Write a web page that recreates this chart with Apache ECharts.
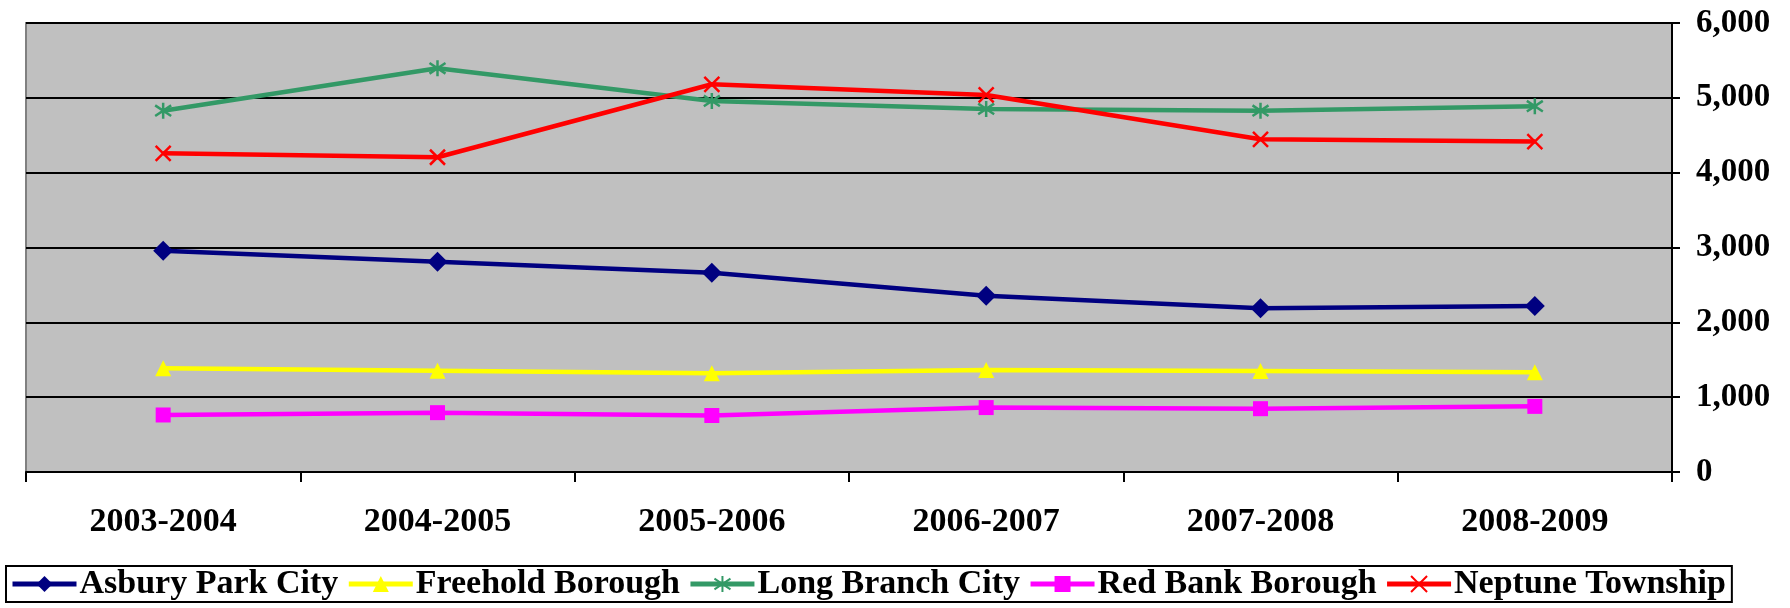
<!DOCTYPE html>
<html>
<head>
<meta charset="utf-8">
<script src="https://cdn.jsdelivr.net/npm/echarts@6/dist/echarts.min.js"></script>
<style>
    html, body { margin: 0; padding: 0; background: #fff; }
    #chart { width: 1790px; height: 608px; }
</style>
</head>
<body>
<div id="chart"></div>
<script>
// school years on the x axis
var years = ['2003-2004', '2004-2005', '2005-2006', '2006-2007', '2007-2008', '2008-2009'];

// values
var asburyPark = [2957, 2810, 2662, 2356, 2189, 2218];
var freehold = [1386, 1354, 1319, 1364, 1350, 1334];
var longBranch = [4828, 5395, 4958, 4851, 4828, 4888];
var redBank = [762, 793, 755, 861, 846, 877];
var neptune = [4259, 4206, 5181, 5038, 4446, 4416];

var yTicks = [0, 1000, 2000, 3000, 4000, 5000, 6000];

var fontName = '"Liberation Serif", "DejaVu Serif", serif';

// stroke-only marks for the cross and the asterisk
var crossPath = 'path://M0,0L10,10M10,0L0,10';
var starPath = 'path://M0,1L10,9M10,1L0,9M5,-1L5,11';

function lineSeries(name, data, color, symbol, size, strokeOnly) {
    var s = {
        name: name,
        type: 'line',
        data: data,
        symbol: symbol,
        symbolSize: size,
        lineStyle: { color: color, width: 4.5 },
        itemStyle: { color: color }
    };
    if (strokeOnly) {
        s.itemStyle = { color: 'none', borderColor: color, borderWidth: 2.5 };
    }
    return s;
}

var myChart = echarts.init(document.getElementById('chart'));

var option = {
    animation: false,
    backgroundColor: '#fff',
    grid: {
        left: 26,
        right: 118,
        top: 23,
        bottom: 136,
        show: true,
        backgroundColor: '#c0c0c0',
        borderColor: '#808080',
        borderWidth: 2
    },
    legend: {
        left: 6,
        top: 566,
        itemWidth: 64,
        itemHeight: 20,
        itemGap: 8,
        padding: [1, 6, 1, 4],
        borderColor: '#000',
        borderWidth: 2,
        lineStyle: { width: 5 },
        textStyle: {
            fontFamily: fontName,
            fontWeight: 'bold',
            fontSize: 34,
            color: '#000',
            padding: [0, 0, 0, -2]
        },
        data: ['Asbury Park City', 'Freehold Borough', 'Long Branch City', 'Red Bank Borough', 'Neptune Township']
    },
    xAxis: {
        type: 'category',
        data: years,
        boundaryGap: true,
        axisLine: { lineStyle: { color: '#000', width: 2 } },
        axisTick: { show: true, length: 10, lineStyle: { color: '#000', width: 2 } },
        axisLabel: {
            margin: 33,
            fontFamily: fontName,
            fontWeight: 'bold',
            fontSize: 34,
            color: '#000'
        }
    },
    yAxis: {
        type: 'value',
        position: 'right',
        min: yTicks[0],
        max: yTicks[yTicks.length - 1],
        interval: 1000,
        axisLine: { show: true, lineStyle: { color: '#000', width: 2 } },
        axisTick: { show: true, length: 8, lineStyle: { color: '#000', width: 2 } },
        splitLine: { show: true, lineStyle: { color: '#000', width: 2 } },
        axisLabel: {
            margin: 24,
            fontFamily: fontName,
            fontWeight: 'bold',
            fontSize: 33,
            color: '#000',
            formatter: function (v) {
                return v.toString().replace(/\B(?=(\d{3})+(?!\d))/g, ',');
            }
        }
    },
    series: [
        lineSeries('Asbury Park City', asburyPark, '#000080', 'diamond', 20),
        lineSeries('Freehold Borough', freehold, '#ffff00', 'triangle', 16),
        lineSeries('Long Branch City', longBranch, '#339966', starPath, 16, true),
        lineSeries('Red Bank Borough', redBank, '#ff00ff', 'rect', 15),
        lineSeries('Neptune Township', neptune, '#ff0000', crossPath, 15, true)
    ]
};

myChart.setOption(option);
</script>
</body>
</html>
